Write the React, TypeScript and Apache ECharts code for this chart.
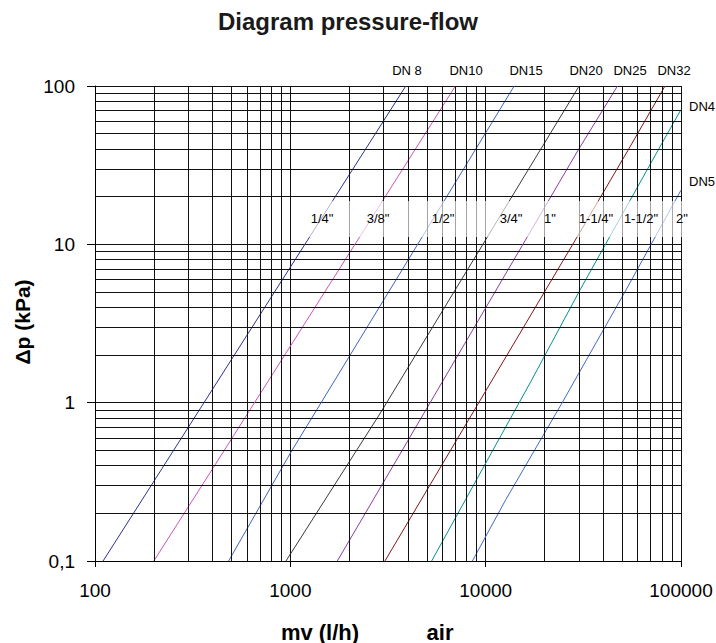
import React, { useEffect, useRef } from "react";
import * as echarts from "echarts";

// ---- data ----
const seriesNames = ["DN 8", "DN10", "DN15", "DN20", "DN25", "DN32", "DN40", "DN50"];
const dn8 = [[110, 0.1], [3900, 100]];
const dn10 = [[200, 0.1], [404, 0.39], [7000, 100]];
const dn15 = [[483, 0.1], [1000, 0.48], [14000, 100]];
const dn20 = [[950, 0.1], [2890, 0.86], [30100, 100]];
const dn25 = [[1740, 0.1], [29800, 39.5], [47300, 100]];
const dn32 = [[3050, 0.1], [10800, 1.39], [30100, 11.7], [53700, 39.5], [82800, 100]];
const dn40 = [[5290, 0.1], [7900, 0.245], [17200, 1.39], [30400, 5.15], [76500, 39.5], [100000, 71]];
const dn50 = [[8550, 0.1], [12700, 0.245], [24300, 0.97], [52300, 5.15], [100000, 22]];
const seriesData = [dn8, dn10, dn15, dn20, dn25, dn32, dn40, dn50];
const seriesColors = ["#2e3192", "#d055b4", "#4262c6", "#3a3a3a", "#8e3aa3", "#8b1414", "#009490", "#4468cc"];

const xMinorGrid = [200, 300, 400, 500, 600, 700, 800, 900, 2000, 3000, 4000, 5000, 6000, 7000, 8000, 9000, 20000, 30000, 40000, 50000, 60000, 70000, 80000, 90000];
const yMinorGrid = [0.2, 0.3, 0.4, 0.5, 0.6, 0.7, 0.8, 0.9, 2, 3, 4, 5, 6, 7, 8, 9, 20, 30, 40, 50, 60, 70, 80, 90];

const dnLabels = ["DN 8", "DN10", "DN15", "DN20", "DN25", "DN32"];
const dnLabelX = [407, 466, 526, 586, 630, 674];
// the reference cuts these two labels at the page's right edge
const dnSideLabels = ["DN4", "DN5"];
const dnSideLabelY = [106, 181];
const inchLabels = ['1/4"', '3/8"', '1/2"', '3/4"', '1"', '1-1/4"', '1-1/2"', '2"'];
const inchLabelX = [322, 378, 443, 511, 550, 596, 641, 682];

const FONT = "'Liberation Sans', Arial, Helvetica, sans-serif";

export default function App() {
  const ref = useRef<HTMLDivElement>(null);
  useEffect(() => {
    if (!ref.current) return;
    const chart = echarts.init(ref.current, undefined, { renderer: "svg" });
    const gridLine = { color: "#111", width: 1, type: "solid" as const };

    const markData: any[] = [
      ...xMinorGrid.map((v) => ({ xAxis: v })),
      ...yMinorGrid.map((v) => ({ yAxis: v })),
    ];

    const graphics: any[] = [];
    graphics.push({
      type: "text", z: 200,
      style: { text: "Diagram pressure-flow", x: 348, y: 21, font: `bold 24px ${FONT}`, fill: "#1a1a1a", textAlign: "center", textVerticalAlign: "middle" },
    });
    dnLabels.forEach((t, i) => {
      graphics.push({
        type: "text", z: 200,
        style: { text: t, x: dnLabelX[i], y: 70, font: `13px ${FONT}`, fill: "#000", textAlign: "center", textVerticalAlign: "middle" },
      });
    });
    dnSideLabels.forEach((t, i) => {
      graphics.push({
        type: "text", z: 200,
        style: { text: t, x: 689, y: dnSideLabelY[i], font: `13px ${FONT}`, fill: "#000", textAlign: "left", textVerticalAlign: "middle" },
      });
    });
    graphics.push({
      type: "rect", z: 150, silent: true,
      shape: { x: 300, y: 201, width: 392, height: 36 },
      style: { fill: "rgba(255,255,255,0.62)" },
    });
    inchLabels.forEach((t, i) => {
      graphics.push({
        type: "text", z: 200,
        style: { text: t, x: inchLabelX[i], y: 218, font: `13px ${FONT}`, fill: "#000", textAlign: "center", textVerticalAlign: "middle" },
      });
    });
    graphics.push({
      type: "text", z: 200, rotation: Math.PI / 2, x: 22, y: 322,
      style: { text: "Δp (kPa)", x: 0, y: 0, font: `bold 21px ${FONT}`, fill: "#000", textAlign: "center", textVerticalAlign: "middle" },
    });
    graphics.push({
      type: "text", z: 200,
      style: { text: "mv (l/h)", x: 320, y: 632, font: `bold 22px ${FONT}`, fill: "#000", textAlign: "center", textVerticalAlign: "middle" },
    });
    graphics.push({
      type: "text", z: 200,
      style: { text: "air", x: 440, y: 632, font: `bold 22px ${FONT}`, fill: "#000", textAlign: "center", textVerticalAlign: "middle" },
    });

    chart.setOption({
      animation: false,
      backgroundColor: "#fff",
      grid: { left: 95, right: 35, top: 86, bottom: 82, containLabel: false },
      xAxis: {
        type: "log", logBase: 10, min: 100, max: 100000,
        axisLine: { show: true, lineStyle: { color: "#000", width: 1 } },
        axisTick: { show: true, inside: false, length: 6, lineStyle: { color: "#000" } },
        axisLabel: {
          color: "#000", fontSize: 19, fontFamily: FONT, margin: 20,
          formatter: (v: number) => String(Math.round(v)),
        },
        splitLine: { show: true, lineStyle: gridLine },
      },
      yAxis: {
        type: "log", logBase: 10, min: 0.1, max: 100,
        axisLine: { show: true, lineStyle: { color: "#000", width: 1 } },
        axisTick: { show: true, inside: false, length: 8, lineStyle: { color: "#000" } },
        axisLabel: {
          color: "#000", fontSize: 19, fontFamily: FONT, margin: 20,
          formatter: (v: number) => String(v).replace(".", ","),
        },
        splitLine: { show: true, lineStyle: gridLine },
      },
      graphic: graphics,
      series: [
        {
          type: "line", name: "grid", data: [], z: 1, silent: true,
          markLine: {
            silent: true, symbol: ["none", "none"], animation: false,
            label: { show: false },
            lineStyle: gridLine,
            emphasis: { disabled: true },
            data: markData,
          },
        },
        ...seriesData.map((d, i) => ({
          type: "line", name: seriesNames[i], data: d, z: 3,
          showSymbol: false, symbol: "none", silent: true,
          lineStyle: { color: seriesColors[i], width: 1 },
        })),
      ],
    });
    return () => chart.dispose();
  }, []);
  return <div ref={ref} style={{ position: "fixed", left: 0, top: 0, width: 716, height: 643 }} />;
}
